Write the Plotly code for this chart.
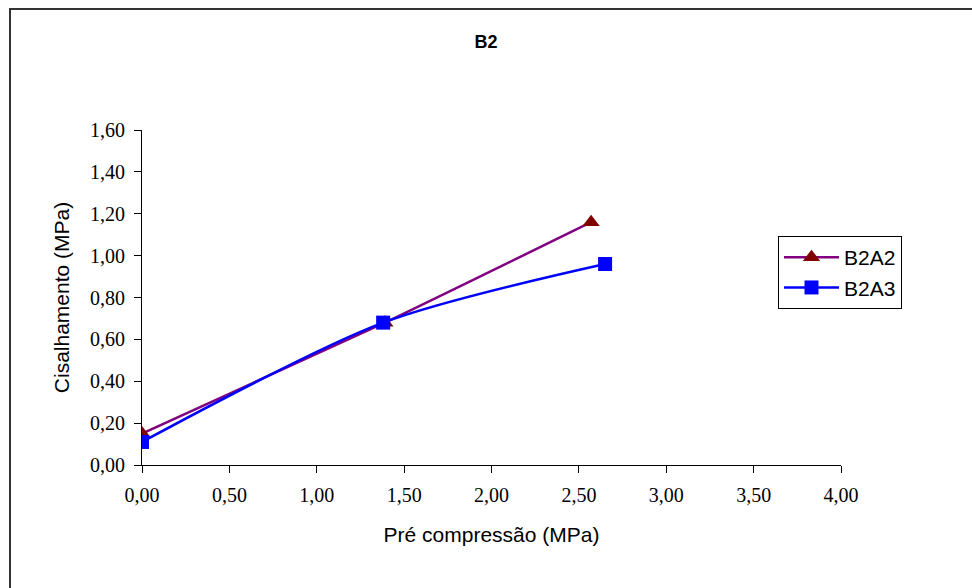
import plotly.graph_objects as go

b2a2_x = [0.0, 1.39, 2.57]
b2a2_y = [0.15, 0.68, 1.16]
b2a3_x = [0.0, 1.38, 2.65]
b2a3_y = [0.11, 0.68, 0.96]

W, H = 972, 588
L, R, T, B = 142, 131, 130, 123
pw, ph = W - L - R, H - T - B

SANS = "Liberation Sans, Arial"
SERIF = "Liberation Serif, Times New Roman"

fig = go.Figure()
fig.add_trace(go.Scatter(x=b2a2_x, y=b2a2_y, name="B2A2", mode="lines+markers",
                         line=dict(color="#800080", width=2.5, shape="spline", smoothing=0.5),
                         marker=dict(symbol="triangle-up", size=15, color="#800000")))
fig.add_trace(go.Scatter(x=b2a3_x, y=b2a3_y, name="B2A3", mode="lines+markers",
                         line=dict(color="#0000FF", width=2.5, shape="spline", smoothing=0.8),
                         marker=dict(symbol="square", size=14, color="#0000FF")))

fig.update_layout(
    width=W, height=H,
    margin=dict(l=L, r=R, t=T, b=B),
    paper_bgcolor="white", plot_bgcolor="white",
    separators=",.",
    title=dict(text="<b>B2</b>", x=0.5, xanchor="center", y=1 - 42 / H, yanchor="middle",
               font=dict(family=SANS, size=18, color="black")),
    xaxis=dict(range=[0, 4], dtick=0.5, tick0=0, tickformat=".2f", showgrid=False, zeroline=False,
               showline=True, linecolor="black", linewidth=1, ticks="outside", ticklen=7,
               tickcolor="black", ticklabelstandoff=5,
               tickfont=dict(family=SERIF, size=20, color="black"),
               title=dict(text="Pré compressão (MPa)", standoff=22,
                          font=dict(family=SANS, size=21, color="black"))),
    yaxis=dict(range=[0, 1.6], dtick=0.2, tick0=0, tickformat=".2f", showgrid=False, zeroline=False,
               showline=True, linecolor="black", linewidth=1, ticks="outside", ticklen=7,
               tickcolor="black", ticklabelstandoff=5,
               tickfont=dict(family=SERIF, size=20, color="black"),
               title=dict(text="Cisalhamento (MPa)", standoff=14,
                          font=dict(family=SANS, size=21, color="black"))),
    legend=dict(x=(778 - L) / pw, y=(465 - 236) / ph, xanchor="left", yanchor="top",
                bordercolor="black", borderwidth=1, bgcolor="white",
                font=dict(family=SANS, size=21, color="black"),
                itemwidth=55),
    shapes=[dict(type="rect", xref="paper", yref="paper",
                 x0=(10 - L) / pw, x1=(990 - L) / pw,
                 y0=(465 - 600) / ph, y1=(465 - 9) / ph,
                 line=dict(color="#333333", width=2), layer="below")],
)

fig.write_html("out.html")
